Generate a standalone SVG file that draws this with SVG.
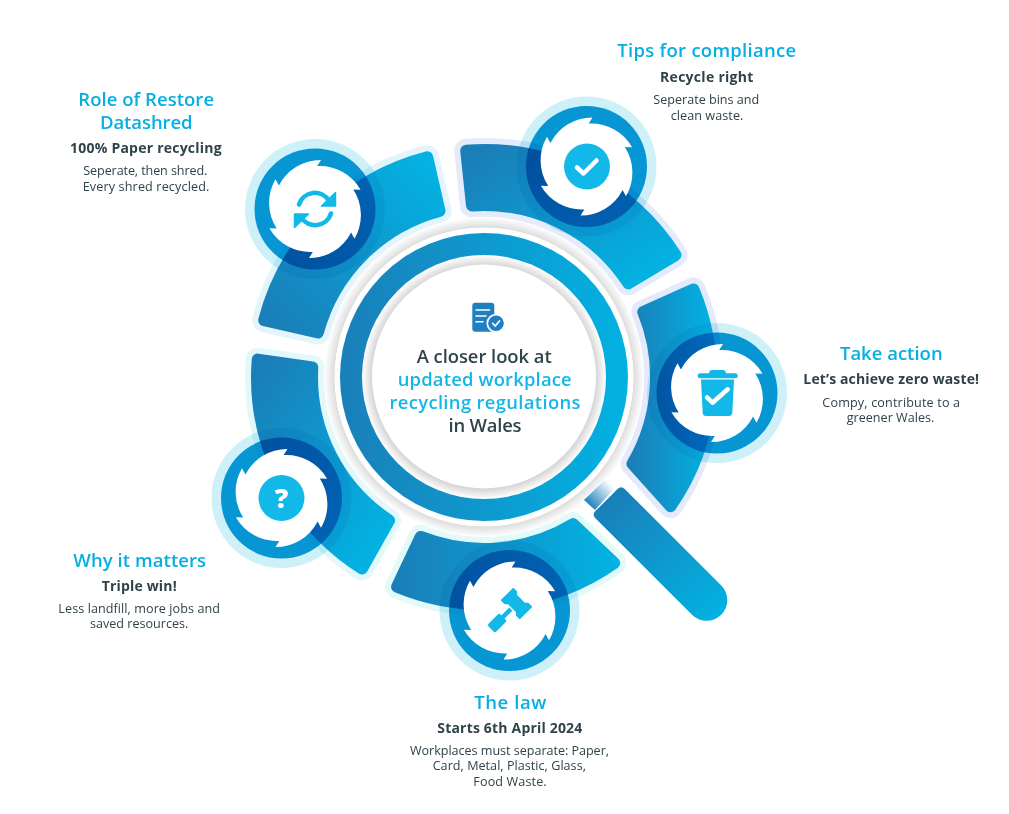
<svg xmlns="http://www.w3.org/2000/svg" width="1009" height="814" viewBox="0 0 1009 814">
<style>
text{font-family:"Open Sans","Liberation Sans",sans-serif;text-anchor:middle;fill:#2f434a}
.h{font-size:18.5px;font-weight:600;fill:#06aee2}
.s{font-size:14px;font-weight:700}
.b{font-size:12.6px;font-weight:400}
.c{font-size:18.4px;font-weight:600}
.cb{fill:#13b7e7}
.halo{fill:none;stroke-width:24;stroke-linejoin:round}
.seg{stroke-width:12;stroke-linejoin:round}
.blend{mix-blend-mode:multiply}
.ic{fill:#12b9e8}
.ln{fill:none;stroke:#12b9e8;stroke-width:4.6;stroke-linecap:round}
.ck{fill:none;stroke:#fff;stroke-width:4.5;stroke-linecap:round;stroke-linejoin:round}
</style>
<defs>
<linearGradient id="gUp" x1="0" y1="1" x2="1" y2="0"><stop offset="0.05" stop-color="#1a7fb9"/><stop offset="0.95" stop-color="#02b2e2"/></linearGradient>
<linearGradient id="gDown" x1="0" y1="0" x2="1" y2="1"><stop offset="0.05" stop-color="#1a7fb9"/><stop offset="0.9" stop-color="#02b2e2"/></linearGradient>
<linearGradient id="gRight" x1="0" y1="0" x2="1" y2="0"><stop offset="0" stop-color="#1a7fb9"/><stop offset="1" stop-color="#02b2e2"/></linearGradient>
<linearGradient id="gNeck" gradientUnits="userSpaceOnUse" x1="589" y1="505" x2="611" y2="484"><stop offset="0" stop-color="#1f82bb"/><stop offset="1" stop-color="#ffffff"/></linearGradient>
<radialGradient id="rOuter" gradientUnits="userSpaceOnUse" cx="484" cy="377" r="160"><stop offset="0.932" stop-color="#fff"/><stop offset="0.936" stop-color="#dedede"/><stop offset="1" stop-color="#fff"/></radialGradient>
<radialGradient id="rInner" gradientUnits="userSpaceOnUse" cx="484" cy="377" r="122"><stop offset="0.9" stop-color="#cdcdcd"/><stop offset="1" stop-color="#fff"/></radialGradient>
<path id="saw" fill="#fff" d="M6,-49.1 L2.2,-42.9 A47 47 0 0 1 45.6,-19.3 L38.3,-19.5 A47 47 0 0 1 39.5,29.8 L36.1,23.4 A47 47 0 0 1 -6,49.1 L-2.2,42.9 A47 47 0 0 1 -45.6,19.3 L-38.3,19.5 A47 47 0 0 1 -39.5,-29.8 L-36.1,-23.4 A47 47 0 0 1 6,-49.1 Z"/>
<g id="disc" class="blend"><circle r="70" fill="#cdf0f9"/><circle r="60.5" fill="#0696d3"/></g>
<path id="p1" d="M264.2,320.2 A227 227 0 0 1 427.2,157.2 L439.5,210.9 A172 172 0 0 0 317.9,332.5 Z"/>
<path id="p2" d="M466.2,150.7 A227 227 0 0 1 675.5,255 L628.3,283.3 A172 172 0 0 0 472,205.4 Z"/>
<path id="p3" d="M693.4,289.4 A227 227 0 0 1 670.6,506.2 L632.5,463.8 A172 172 0 0 0 643.3,312 Z"/>
<path id="p4" d="M614.2,563 A227 227 0 0 1 397.1,586.7 L420.7,536.9 A172 172 0 0 0 573.1,524.1 Z"/>
<path id="p5" d="M362,568.5 A227 227 0 0 1 257.7,359.6 L312.3,367.4 A172 172 0 0 0 389.1,520.4 Z"/>
</defs>

<g id="segments">
<use href="#p1" class="halo" stroke="#e3f4fd"/><use href="#p2" class="halo" stroke="#e4ebfb"/><use href="#p3" class="halo" stroke="#e4e9fb"/><use href="#p4" class="halo" stroke="#e2faf8"/><use href="#p5" class="halo" stroke="#e2f8fb"/>
<use href="#p1" class="seg" fill="url(#gUp)" stroke="url(#gUp)"/>
<use href="#p2" class="seg" fill="url(#gDown)" stroke="url(#gDown)"/>
<use href="#p3" class="seg" fill="url(#gRight)" stroke="url(#gRight)"/>
<use href="#p4" class="seg" fill="url(#gRight)" stroke="url(#gRight)"/>
<use href="#p5" class="seg" fill="url(#gDown)" stroke="url(#gDown)"/>
</g>

<g id="magnifier">
<circle cx="484" cy="377" r="160" fill="url(#rOuter)"/>
<polygon points="584,500 605.7,479 615,488 595,510" fill="url(#gNeck)"/>
<path transform="translate(606.5,500) rotate(45)" fill="url(#gRight)" d="M5,-20.7 H141.6 A20.7 20.7 0 0 1 141.6,20.7 H5 Q0,20.7 0,15.7 V-15.7 Q0,-20.7 5,-20.7 Z"/>
<circle cx="484" cy="377" r="144" fill="url(#gRight)"/>
<circle cx="484" cy="377" r="122" fill="url(#rInner)"/>
<circle cx="484" cy="376.5" r="112" fill="#fff"/>
</g>

<g id="center">
<rect x="472.3" y="302.7" width="22" height="29" rx="3" fill="#1f7fc1"/>
<path d="M476,310 H489.5 M476,316 H486 M476,321.7 H483" fill="none" stroke="#fff" stroke-width="1.5" stroke-linecap="round"/>
<circle cx="496" cy="323.3" r="9.5" fill="#fff"/><circle cx="496" cy="323.3" r="7.8" fill="#1f7fc1"/>
<path d="M492.8,323.5 L495.2,326 L499.5,321" fill="none" stroke="#fff" stroke-width="1.8" stroke-linecap="round" stroke-linejoin="round"/>
<text class="c" x="484.2" y="363" textLength="135">A closer look at</text>
<text class="c cb" x="484.7" y="386" textLength="174">updated workplace</text>
<text class="c cb" x="485" y="409" textLength="191">recycling regulations</text>
<text class="c" x="485" y="432" textLength="73">in Wales</text>
</g>

<g id="node-role">
<use href="#disc" x="315" y="209"/><use href="#saw" x="315" y="209"/>
<g transform="translate(315,209)">
<path class="ln" d="M-16,-4.5 A16.5 16.5 0 0 1 14,-8"/><path class="ic" stroke="#12b9e8" stroke-width="1.5" stroke-linejoin="round" d="M20.5,-16.5 V-3 H6.5 Z"/>
<path class="ln" d="M16,4.5 A16.5 16.5 0 0 1 -14,8"/><path class="ic" stroke="#12b9e8" stroke-width="1.5" stroke-linejoin="round" d="M-20.5,18.5 V5 H-6.5 Z"/>
</g>
<text class="h" x="146.2" y="106.2" textLength="135.7">Role of Restore</text><text class="h" x="146.3" y="129.3" textLength="92.7">Datashred</text>
<text class="s" x="145.8" y="153" textLength="151.7">100% Paper recycling</text>
<text class="b" x="145.3" y="175" textLength="124">Seperate, then shred.</text><text class="b" x="146" y="191" textLength="126.7">Every shred recycled.</text>
</g>

<g id="node-tips">
<use href="#disc" x="586.5" y="166.5"/><use href="#saw" x="586.5" y="166.5"/>
<g transform="translate(586.5,166.5)"><circle cx="0.5" r="23" class="ic"/><path class="ck" d="M-9.5,1 L-3,7 L10,-6"/></g>
<text class="h" x="706.7" y="56.7" textLength="178.7">Tips for compliance</text>
<text class="s" x="706.7" y="81.7" textLength="93.3">Recycle right</text>
<text class="b" x="706.3" y="104.3" textLength="106">Seperate bins and</text><text class="b" x="707" y="120" textLength="72.7">clean waste.</text>
</g>

<g id="node-action">
<use href="#disc" x="717" y="393"/><use href="#saw" x="717" y="393"/>
<g transform="translate(717,393)">
<rect x="-19.3" y="-19.7" width="40" height="5" rx="2.5" class="ic"/>
<path class="ic" d="M-8,-19 Q-8,-23 -5,-23 H6 Q9,-23 9,-19 Z"/>
<path class="ic" d="M-16,-13.5 H17 L15.3,20 Q15,23 12,23 H-11 Q-14,23 -14.3,20 Z"/>
<path class="ck" d="M-10,4.3 L-4.5,9.7 L10.7,-3.7"/>
</g>
<text class="h" x="891.3" y="360" textLength="102.7">Take action</text>
<text class="s" x="891.2" y="383.5" textLength="175.7">Let’s achieve zero waste!</text>
<text class="b" x="891.2" y="406.7" textLength="137.7">Compy, contribute to a</text><text class="b" x="890.5" y="422" textLength="87.7">greener Wales.</text>
</g>

<g id="node-law">
<use href="#disc" x="509.5" y="610.5"/><use href="#saw" x="509.5" y="610.5"/>
<g transform="translate(509.5,610.5) translate(7,-7) rotate(45)" class="ic">
<path stroke="#12b9e8" stroke-width="2" stroke-linejoin="round" d="M-12.5,-8 H-8.5 L-6,-5.5 H6 L8.5,-8 H12.5 V8 H8.5 L6,5.5 H-6 L-8.5,8 H-12.5 Z"/>
<rect x="-2.2" y="8" width="4.4" height="12"/>
<rect x="-5.5" y="19" width="11" height="17" rx="2"/>
</g>
<text class="h" x="510.3" y="709" textLength="72">The law</text>
<text class="s" x="509.8" y="732.5" textLength="145">Starts 6th April 2024</text>
<text class="b" x="509.5" y="754.5" textLength="199">Workplaces must separate: Paper,</text><text class="b" x="509.3" y="770.2" textLength="153.3">Card, Metal, Plastic, Glass,</text><text class="b" x="510" y="786" textLength="73.3">Food Waste.</text>
</g>

<g id="node-why">
<use href="#disc" x="281.5" y="498"/><use href="#saw" x="281.5" y="498"/>
<circle cx="281.5" cy="498" r="23" class="ic"/>
<text x="281.5" y="507.5" style="font-size:27px;font-weight:800;fill:#fff">?</text>
<text class="h" x="139.7" y="566.7" textLength="132.7">Why it matters</text>
<text class="s" x="139.2" y="590.7" textLength="75">Triple win!</text>
<text class="b" x="139.2" y="612.7" textLength="161.7">Less landfill, more jobs and</text><text class="b" x="139.2" y="628.3" textLength="98.3">saved resources.</text>
</g>
</svg>
